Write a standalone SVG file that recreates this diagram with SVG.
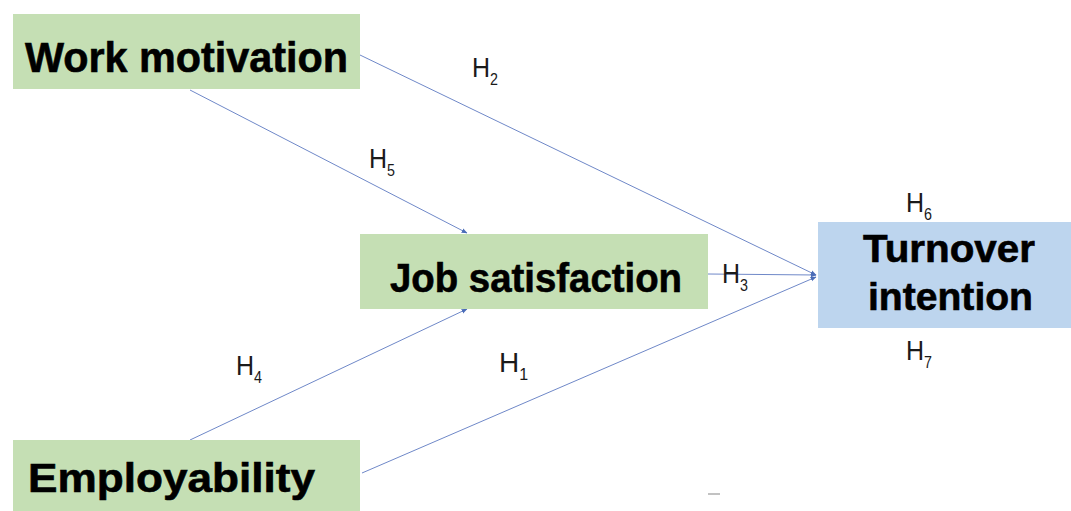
<svg xmlns="http://www.w3.org/2000/svg" width="1071" height="511" viewBox="0 0 1071 511">
<style>
.green{fill:#C5DFB4}
.blue{fill:#BDD5EE}
.lbl{font-family:"Liberation Sans",Arial,sans-serif;font-weight:bold;fill:#000;stroke:#000;stroke-width:0.6;}
.h{font-family:"Liberation Sans",Arial,sans-serif;font-size:28px;fill:#1a1a1a;}
.sub{font-size:16px;}
.conn{stroke:#6F88C8;stroke-width:1;fill:none;marker-end:url(#arr)}
</style>
<defs>
<marker id="arr" viewBox="0 0 10 10" refX="9" refY="5" markerWidth="6" markerHeight="6" markerUnits="userSpaceOnUse" orient="auto">
<path d="M0,1 L10,5 L0,9 Z" fill="#4A6CB8"/>
</marker>
</defs>
<rect width="1071" height="511" fill="#fff"/>
<g id="connectors">
<line class="conn" x1="360" y1="55" x2="816" y2="275"/>
<line class="conn" x1="190" y1="90" x2="467" y2="233"/>
<line class="conn" x1="708" y1="274" x2="816" y2="275"/>
<line class="conn" x1="190" y1="440" x2="467" y2="309"/>
<line class="conn" x1="362" y1="473" x2="816" y2="277"/>
</g>
<g id="work-motivation">
<rect class="green" x="13" y="14" width="347" height="75"/>
<text class="lbl" x="25" y="72" font-size="42" textLength="323" lengthAdjust="spacingAndGlyphs">Work motivation</text>
</g>
<g id="job-satisfaction">
<rect class="green" x="360" y="234" width="348" height="75"/>
<text class="lbl" x="390" y="292" font-size="40" textLength="292" lengthAdjust="spacingAndGlyphs">Job satisfaction</text>
</g>
<g id="turnover-intention">
<rect class="blue" x="818" y="222" width="253" height="106"/>
<text class="lbl" x="863" y="262" font-size="38" textLength="172" lengthAdjust="spacingAndGlyphs">Turnover</text>
<text class="lbl" x="868" y="310" font-size="38" textLength="165" lengthAdjust="spacingAndGlyphs">intention</text>
</g>
<g id="employability">
<rect class="green" x="13" y="440" width="347" height="71"/>
<text class="lbl" x="28" y="492" font-size="40" textLength="287" lengthAdjust="spacingAndGlyphs">Employability</text>
</g>
<g id="labels">
<text class="h" x="472" y="77" textLength="26" lengthAdjust="spacingAndGlyphs">H<tspan class="sub" dy="8">2</tspan></text>
<text class="h" x="369" y="168" textLength="26" lengthAdjust="spacingAndGlyphs">H<tspan class="sub" dy="8">5</tspan></text>
<text class="h" x="906" y="212" textLength="26" lengthAdjust="spacingAndGlyphs">H<tspan class="sub" dy="8">6</tspan></text>
<text class="h" x="722" y="283" textLength="26" lengthAdjust="spacingAndGlyphs">H<tspan class="sub" dy="8">3</tspan></text>
<text class="h" x="236" y="375" textLength="26" lengthAdjust="spacingAndGlyphs">H<tspan class="sub" dy="8">4</tspan></text>
<text class="h" x="499" y="372">H<tspan class="sub" dy="8">1</tspan></text>
<text class="h" x="906" y="360" textLength="26" lengthAdjust="spacingAndGlyphs">H<tspan class="sub" dy="8">7</tspan></text>
</g>
<rect x="708" y="493" width="12" height="2" fill="#999" opacity="0.6"/>
</svg>
